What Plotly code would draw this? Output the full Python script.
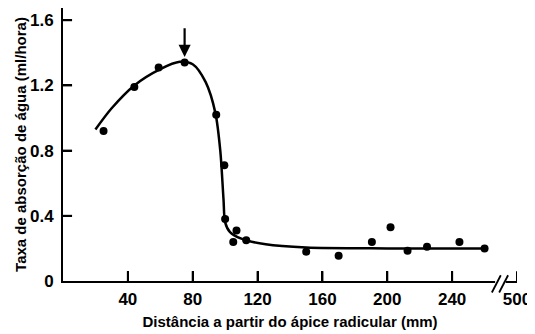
import plotly.graph_objects as go

# Measured points
dist_mm = [25, 44, 59, 75, 94.5, 99.5, 100, 107, 105, 113, 150, 170, 190.5, 202, 212.5, 224.5, 244.5, 260]
uptake = [0.92, 1.19, 1.31, 1.34, 1.02, 0.71, 0.38, 0.31, 0.24, 0.25, 0.18, 0.155, 0.24, 0.33, 0.185, 0.21, 0.24, 0.20]

# Fitted curve
curve_x = [20, 30, 44, 60, 72, 80, 88, 94, 97, 99, 100, 103, 110, 125, 150, 200, 260]
curve_y = [0.93, 1.06, 1.20, 1.30, 1.345, 1.33, 1.22, 1.03, 0.80, 0.50, 0.36, 0.30, 0.26, 0.225, 0.205, 0.20, 0.20]

tick_vals = [40, 80, 120, 160, 200, 240, 280]
tick_text = ["40", "80", "120", "160", "200", "240", "500"]
ytick_vals = [0, 0.4, 0.8, 1.2, 1.6]
ytick_text = ["0", "0.4", "0.8", "1.2", "1.6"]

peak_x = 75
peak_y = 1.34

fig = go.Figure()
fig.add_trace(go.Scatter(x=curve_x, y=curve_y, mode="lines",
                         line=dict(color="black", width=2.5, shape="spline", smoothing=0.8),
                         hoverinfo="skip", showlegend=False, cliponaxis=False))
fig.add_trace(go.Scatter(x=dist_mm, y=uptake, mode="markers",
                         marker=dict(color="black", size=8),
                         showlegend=False))

fig.add_annotation(x=peak_x, y=peak_y + 0.035, ax=peak_x, ay=1.56,
                   xref="x", yref="y", axref="x", ayref="y",
                   showarrow=True, arrowhead=2, arrowsize=1.1, arrowwidth=2.2,
                   arrowcolor="black", text="")

# axis break on the x axis (gap + two slashes)
shapes = [
    dict(type="rect", xref="x", yref="paper", x0=266.5, x1=273, y0=-0.012, y1=0.012,
         fillcolor="white", line=dict(width=0), layer="above"),
    dict(type="line", xref="x", yref="paper", x0=264.5, x1=270, y0=-0.042, y1=0.021,
         line=dict(color="black", width=1.8), layer="above"),
    dict(type="line", xref="x", yref="paper", x0=269, x1=274.5, y0=-0.042, y1=0.021,
         line=dict(color="black", width=1.8), layer="above"),
]
# inside tick marks, taken from the tick lists
for v in tick_vals:
    shapes.append(dict(type="line", xref="x", yref="paper", x0=v, x1=v, y0=0, y1=0.036,
                       line=dict(color="black", width=2), layer="above"))
for v in ytick_vals[1:]:
    shapes.append(dict(type="line", xref="paper", yref="y", x0=0, x1=0.02, y0=v, y1=v,
                       line=dict(color="black", width=2), layer="above"))

fig.update_layout(
    width=527, height=326,
    margin=dict(l=55, r=18, t=0, b=53),
    paper_bgcolor="white", plot_bgcolor="white",
    font=dict(family="Liberation Sans, Arial, sans-serif", color="black"),
    shapes=shapes,
    xaxis=dict(range=[0, 280], tickvals=tick_vals, ticktext=tick_text,
               automargin=False,
               ticks="inside", ticklen=10, tickwidth=2, tickcolor="black",
               showline=True, linecolor="black", linewidth=2,
               showgrid=False, zeroline=False,
               ticklabelstandoff=2,
               tickfont=dict(size=17, color="black", weight="bold"),
               title=dict(text="<b>Distância a partir do ápice radicular (mm)</b>",
                          font=dict(size=15, color="black"), standoff=8)),
    yaxis=dict(range=[0, 1.675], tickvals=ytick_vals, ticktext=ytick_text,
               automargin=False,
               ticks="inside", ticklen=9, tickwidth=2, tickcolor="black",
               showline=True, linecolor="black", linewidth=2,
               showgrid=False, zeroline=False,
               ticklabelstandoff=4,
               tickfont=dict(size=17, color="black", weight="bold"),
               title=dict(text="<b>Taxa de absorção de água (ml/hora)</b>",
                          font=dict(size=15, color="black"), standoff=0)),
)

fig.write_html("out.html")
